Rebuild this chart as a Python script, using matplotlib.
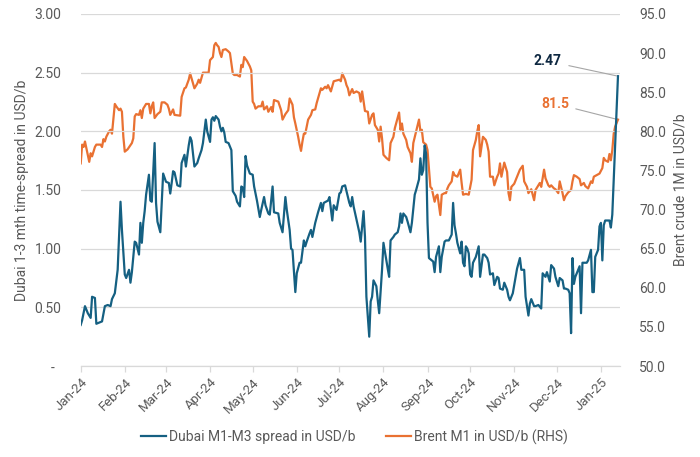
import matplotlib
matplotlib.use("Agg")
import matplotlib.pyplot as plt
import matplotlib.dates as mdates
from matplotlib import font_manager
import pandas as pd

# ---------------- data ----------------
dubai_dates = [
    "2024-01-01", "2024-01-02", "2024-01-04", "2024-01-06", "2024-01-08", "2024-01-09", "2024-01-11", "2024-01-12",
    "2024-01-16", "2024-01-18", "2024-01-20", "2024-01-22", "2024-01-23", "2024-01-25", "2024-01-27", "2024-01-29",
    "2024-01-30", "2024-02-01", "2024-02-02", "2024-02-04", "2024-02-05", "2024-02-06", "2024-02-08", "2024-02-09",
    "2024-02-11", "2024-02-12", "2024-02-13", "2024-02-14", "2024-02-15", "2024-02-16", "2024-02-18", "2024-02-19",
    "2024-02-20", "2024-02-22", "2024-02-23", "2024-02-24", "2024-02-26", "2024-02-27", "2024-02-28", "2024-03-01",
    "2024-03-03", "2024-03-04", "2024-03-05", "2024-03-06", "2024-03-07", "2024-03-09", "2024-03-11", "2024-03-12",
    "2024-03-14", "2024-03-15", "2024-03-17", "2024-03-18", "2024-03-19", "2024-03-21", "2024-03-23", "2024-03-24",
    "2024-03-26", "2024-03-27", "2024-03-29", "2024-03-30", "2024-04-01", "2024-04-02", "2024-04-03", "2024-04-04",
    "2024-04-05", "2024-04-07", "2024-04-08", "2024-04-09", "2024-04-10", "2024-04-11", "2024-04-12", "2024-04-14",
    "2024-04-16", "2024-04-17", "2024-04-19", "2024-04-20", "2024-04-22", "2024-04-23", "2024-04-24", "2024-04-25",
    "2024-04-26", "2024-04-27", "2024-04-29", "2024-05-01", "2024-05-02", "2024-05-04", "2024-05-06", "2024-05-07",
    "2024-05-09", "2024-05-10", "2024-05-12", "2024-05-13", "2024-05-15", "2024-05-16", "2024-05-19", "2024-05-20",
    "2024-05-22", "2024-05-24", "2024-05-25", "2024-05-27", "2024-05-28", "2024-05-29", "2024-05-31", "2024-06-01",
    "2024-06-03", "2024-06-04", "2024-06-06", "2024-06-07", "2024-06-08", "2024-06-10", "2024-06-11", "2024-06-12",
    "2024-06-14", "2024-06-16", "2024-06-18", "2024-06-19", "2024-06-20", "2024-06-23", "2024-06-24", "2024-06-26",
    "2024-06-27", "2024-06-29", "2024-07-01", "2024-07-02", "2024-07-03", "2024-07-05", "2024-07-06", "2024-07-08",
    "2024-07-09", "2024-07-10", "2024-07-11", "2024-07-13", "2024-07-15", "2024-07-16", "2024-07-18", "2024-07-19",
    "2024-07-20", "2024-07-22", "2024-07-23", "2024-07-24", "2024-07-25", "2024-07-27", "2024-07-28", "2024-07-29",
    "2024-07-31", "2024-08-01", "2024-08-03", "2024-08-04", "2024-08-05", "2024-08-06", "2024-08-08", "2024-08-09",
    "2024-08-11", "2024-08-12", "2024-08-13", "2024-08-14", "2024-08-15", "2024-08-17", "2024-08-18", "2024-08-20",
    "2024-08-21", "2024-08-23", "2024-08-24", "2024-08-26", "2024-08-27", "2024-08-28", "2024-08-29", "2024-08-30",
    "2024-08-31", "2024-09-01", "2024-09-02", "2024-09-04", "2024-09-05", "2024-09-06", "2024-09-07", "2024-09-09",
    "2024-09-10", "2024-09-11", "2024-09-13", "2024-09-14", "2024-09-16", "2024-09-18", "2024-09-19", "2024-09-20",
    "2024-09-21", "2024-09-22", "2024-09-24", "2024-09-25", "2024-09-26", "2024-09-27", "2024-09-28", "2024-09-29",
    "2024-09-30", "2024-10-01", "2024-10-02", "2024-10-03", "2024-10-05", "2024-10-07", "2024-10-08", "2024-10-10",
    "2024-10-11", "2024-10-13", "2024-10-14", "2024-10-15", "2024-10-17", "2024-10-18", "2024-10-20", "2024-10-21",
    "2024-10-22", "2024-10-24", "2024-10-25", "2024-10-27", "2024-10-28", "2024-10-29", "2024-10-31", "2024-11-01",
    "2024-11-03", "2024-11-05", "2024-11-06", "2024-11-08", "2024-11-09", "2024-11-10", "2024-11-11", "2024-11-12",
    "2024-11-13", "2024-11-15", "2024-11-16", "2024-11-18", "2024-11-20", "2024-11-21", "2024-11-23", "2024-11-24",
    "2024-11-26", "2024-11-27", "2024-11-29", "2024-11-30", "2024-12-02", "2024-12-03", "2024-12-05", "2024-12-06",
    "2024-12-07", "2024-12-09", "2024-12-10", "2024-12-11", "2024-12-12", "2024-12-13", "2024-12-14", "2024-12-15",
    "2024-12-17", "2024-12-18", "2024-12-19", "2024-12-20", "2024-12-22", "2024-12-23", "2024-12-25", "2024-12-26",
    "2024-12-27", "2024-12-28", "2024-12-30", "2024-12-31", "2025-01-01", "2025-01-02", "2025-01-03", "2025-01-04",
    "2025-01-06", "2025-01-07", "2025-01-08", "2025-01-09", "2025-01-13",
]
dubai_spread = [
    0.35, 0.39, 0.51, 0.45, 0.41, 0.59, 0.58, 0.36,
    0.38, 0.51, 0.52, 0.51, 0.57, 0.62, 0.82, 1.40,
    1.16, 0.78, 0.75, 0.82, 0.71, 0.80, 1.06, 1.05,
    0.95, 1.22, 1.05, 1.22, 1.32, 1.46, 1.63, 1.41,
    1.40, 1.90, 1.39, 1.23, 1.14, 1.39, 1.64, 1.57,
    1.56, 1.47, 1.56, 1.66, 1.65, 1.54, 1.53, 1.73,
    1.80, 1.70, 1.88, 1.95, 1.92, 1.70, 1.73, 1.77,
    1.84, 1.90, 2.10, 2.00, 1.91, 2.10, 2.12, 2.09,
    2.13, 2.10, 2.04, 2.00, 2.03, 1.99, 1.91, 1.90,
    1.84, 1.49, 1.45, 1.40, 1.36, 1.53, 1.52, 1.44,
    1.79, 1.71, 1.64, 1.63, 1.53, 1.41, 1.27, 1.33,
    1.44, 1.37, 1.30, 1.29, 1.53, 1.31, 1.30, 1.22,
    1.14, 1.44, 1.33, 1.16, 1.00, 0.99, 0.63, 0.79,
    0.88, 0.88, 1.07, 1.02, 1.06, 1.13, 1.16, 1.10,
    1.22, 1.31, 1.39, 1.32, 1.39, 1.41, 1.44, 1.24,
    1.37, 1.33, 1.47, 1.48, 1.53, 1.54, 1.49, 1.39,
    1.36, 1.44, 1.36, 1.25, 1.14, 1.06, 1.32, 1.10,
    0.59, 0.25, 0.55, 0.59, 0.73, 0.68, 0.56, 0.45,
    0.82, 1.05, 0.90, 0.83, 0.76, 1.07, 1.10, 1.12,
    1.14, 1.19, 1.30, 1.22, 1.30, 1.27, 1.23, 1.14,
    1.22, 1.46, 1.50, 1.59, 1.77, 1.63, 1.67, 1.88,
    1.81, 1.22, 0.92, 0.90, 0.89, 0.80, 0.93, 1.02,
    0.80, 0.93, 1.06, 1.07, 1.07, 1.12, 1.39, 1.20,
    1.13, 1.05, 0.96, 1.06, 0.88, 0.85, 1.02, 1.00,
    0.96, 0.78, 0.76, 0.88, 0.93, 1.02, 0.76, 0.95,
    0.95, 0.92, 0.88, 0.78, 0.79, 0.69, 0.76, 0.75,
    0.66, 0.65, 0.71, 0.65, 0.59, 0.56, 0.62, 0.69,
    0.83, 0.92, 0.82, 0.82, 0.59, 0.51, 0.43, 0.53,
    0.57, 0.51, 0.51, 0.52, 0.49, 0.79, 0.76, 0.80,
    0.72, 0.86, 0.83, 0.76, 0.68, 0.75, 0.73, 0.66,
    0.66, 0.65, 0.62, 0.28, 0.92, 0.70, 0.76, 0.79,
    0.85, 0.45, 0.88, 0.88, 0.88, 0.90, 0.99, 0.63,
    0.63, 0.93, 0.99, 1.19, 1.22, 0.90, 1.20, 1.24,
    1.24, 1.24, 1.18, 1.29, 2.47,
]

brent_dates = [
    "2024-01-01", "2024-01-02", "2024-01-03", "2024-01-04", "2024-01-06", "2024-01-07", "2024-01-08", "2024-01-09",
    "2024-01-11", "2024-01-12", "2024-01-15", "2024-01-16", "2024-01-17", "2024-01-18", "2024-01-19", "2024-01-21",
    "2024-01-22", "2024-01-23", "2024-01-25", "2024-01-26", "2024-01-28", "2024-01-29", "2024-01-30", "2024-01-31",
    "2024-02-01", "2024-02-03", "2024-02-06", "2024-02-07", "2024-02-08", "2024-02-09", "2024-02-11", "2024-02-12",
    "2024-02-13", "2024-02-14", "2024-02-16", "2024-02-18", "2024-02-19", "2024-02-20", "2024-02-21", "2024-02-22",
    "2024-02-24", "2024-02-26", "2024-02-27", "2024-02-29", "2024-03-02", "2024-03-03", "2024-03-04", "2024-03-06",
    "2024-03-07", "2024-03-11", "2024-03-12", "2024-03-14", "2024-03-15", "2024-03-17", "2024-03-18", "2024-03-20",
    "2024-03-21", "2024-03-23", "2024-03-24", "2024-03-25", "2024-03-27", "2024-03-31", "2024-04-01", "2024-04-03",
    "2024-04-04", "2024-04-05", "2024-04-06", "2024-04-07", "2024-04-08", "2024-04-09", "2024-04-10", "2024-04-12",
    "2024-04-14", "2024-04-15", "2024-04-17", "2024-04-18", "2024-04-20", "2024-04-22", "2024-04-23", "2024-04-24",
    "2024-04-25", "2024-04-27", "2024-04-29", "2024-04-30", "2024-05-01", "2024-05-02", "2024-05-03", "2024-05-05",
    "2024-05-07", "2024-05-08", "2024-05-09", "2024-05-11", "2024-05-12", "2024-05-14", "2024-05-15", "2024-05-16",
    "2024-05-19", "2024-05-21", "2024-05-22", "2024-05-24", "2024-05-26", "2024-05-27", "2024-05-29", "2024-05-30",
    "2024-05-31", "2024-06-02", "2024-06-03", "2024-06-04", "2024-06-05", "2024-06-06", "2024-06-07", "2024-06-08",
    "2024-06-09", "2024-06-11", "2024-06-12", "2024-06-14", "2024-06-15", "2024-06-17", "2024-06-18", "2024-06-19",
    "2024-06-21", "2024-06-22", "2024-06-23", "2024-06-25", "2024-06-27", "2024-06-29", "2024-07-01", "2024-07-02",
    "2024-07-03", "2024-07-05", "2024-07-06", "2024-07-07", "2024-07-08", "2024-07-10", "2024-07-11", "2024-07-13",
    "2024-07-15", "2024-07-16", "2024-07-17", "2024-07-19", "2024-07-21", "2024-07-22", "2024-07-24", "2024-07-25",
    "2024-07-26", "2024-07-28", "2024-07-29", "2024-07-30", "2024-07-31", "2024-08-01", "2024-08-03", "2024-08-05",
    "2024-08-06", "2024-08-08", "2024-08-09", "2024-08-12", "2024-08-13", "2024-08-14", "2024-08-15", "2024-08-17",
    "2024-08-18", "2024-08-20", "2024-08-21", "2024-08-22", "2024-08-24", "2024-08-26", "2024-08-27", "2024-08-28",
    "2024-08-29", "2024-08-31", "2024-09-01", "2024-09-03", "2024-09-04", "2024-09-06", "2024-09-07", "2024-09-08",
    "2024-09-10", "2024-09-11", "2024-09-13", "2024-09-14", "2024-09-15", "2024-09-16", "2024-09-18", "2024-09-19",
    "2024-09-20", "2024-09-22", "2024-09-24", "2024-09-25", "2024-09-26", "2024-09-28", "2024-09-30", "2024-10-02",
    "2024-10-03", "2024-10-05", "2024-10-06", "2024-10-07", "2024-10-08", "2024-10-10", "2024-10-12", "2024-10-13",
    "2024-10-14", "2024-10-15", "2024-10-17", "2024-10-18", "2024-10-20", "2024-10-21", "2024-10-22", "2024-10-23",
    "2024-10-25", "2024-10-27", "2024-10-28", "2024-10-29", "2024-10-30", "2024-11-01", "2024-11-03", "2024-11-05",
    "2024-11-07", "2024-11-08", "2024-11-10", "2024-11-11", "2024-11-13", "2024-11-15", "2024-11-16", "2024-11-18",
    "2024-11-19", "2024-11-20", "2024-11-22", "2024-11-23", "2024-11-25", "2024-11-26", "2024-11-27", "2024-11-29",
    "2024-11-30", "2024-12-02", "2024-12-03", "2024-12-05", "2024-12-06", "2024-12-07", "2024-12-09", "2024-12-11",
    "2024-12-12", "2024-12-13", "2024-12-15", "2024-12-17", "2024-12-18", "2024-12-20", "2024-12-21", "2024-12-23",
    "2024-12-25", "2024-12-26", "2024-12-27", "2024-12-29", "2024-12-31", "2025-01-02", "2025-01-03", "2025-01-04",
    "2025-01-06", "2025-01-07", "2025-01-08", "2025-01-09", "2025-01-10", "2025-01-11", "2025-01-13",
]
brent_price = [
    75.9, 78.3, 78.0, 78.7, 77.0, 76.1, 77.2, 76.8,
    78.0, 78.3, 78.3, 78.0, 79.0, 78.7, 79.3, 80.0,
    80.2, 79.7, 83.5, 83.2, 82.7, 82.9, 82.5, 79.3,
    77.4, 77.7, 78.5, 79.1, 81.9, 82.2, 82.1, 82.7,
    81.7, 82.9, 83.5, 83.5, 82.3, 83.2, 83.7, 81.7,
    82.2, 82.5, 83.7, 83.7, 83.4, 82.9, 82.1, 82.8,
    82.1, 82.0, 84.4, 85.5, 85.6, 86.6, 87.4, 86.1,
    85.5, 86.1, 86.6, 86.2, 87.5, 87.5, 89.1, 89.5,
    91.0, 91.3, 91.0, 90.8, 90.0, 89.5, 90.4, 90.5,
    90.2, 90.0, 87.4, 87.2, 87.2, 87.0, 88.5, 88.2,
    89.5, 89.0, 88.3, 87.8, 83.8, 83.5, 82.9, 83.2,
    83.2, 83.8, 82.8, 83.2, 82.5, 83.1, 82.5, 84.0,
    83.8, 82.7, 81.5, 82.2, 82.7, 84.2, 83.4, 81.8,
    81.0, 79.3, 78.3, 77.5, 78.7, 79.7, 79.7, 80.6,
    81.5, 82.1, 82.7, 82.8, 83.6, 84.9, 85.5, 85.3,
    85.7, 85.5, 85.9, 85.1, 86.4, 86.5, 86.6, 86.4,
    87.4, 86.6, 85.9, 85.5, 84.6, 85.4, 84.9, 85.1,
    84.9, 83.8, 85.1, 82.6, 82.5, 81.0, 82.1, 82.3,
    80.8, 80.2, 78.7, 80.6, 79.1, 77.0, 76.6, 76.3,
    78.5, 79.3, 80.4, 82.4, 80.2, 81.0, 79.7, 78.9,
    78.0, 77.2, 76.1, 78.5, 80.0, 81.5, 80.0, 80.2,
    78.6, 78.3, 77.6, 72.9, 72.7, 71.0, 71.7, 71.9,
    69.3, 71.9, 72.1, 72.1, 72.7, 73.1, 73.6, 74.8,
    74.4, 74.2, 75.1, 73.4, 71.9, 72.0, 71.9, 73.8,
    77.6, 78.9, 80.0, 80.8, 76.8, 79.3, 78.9, 78.3,
    77.4, 74.2, 74.2, 73.1, 74.2, 74.6, 75.9, 74.2,
    76.0, 74.8, 72.1, 71.2, 72.9, 73.3, 74.2, 75.1,
    75.6, 73.6, 72.9, 72.1, 72.6, 71.2, 72.5, 73.1,
    73.4, 72.9, 75.1, 74.0, 73.1, 72.9, 73.1, 72.7,
    72.6, 72.1, 73.6, 72.1, 71.2, 71.7, 72.2, 72.5,
    73.6, 74.4, 74.2, 73.9, 73.1, 73.4, 73.0, 72.7,
    73.6, 73.4, 74.2, 74.4, 74.6, 75.3, 76.6, 76.3,
    76.1, 77.1, 76.3, 77.6, 79.7, 80.6, 81.5,
]

left_ticks = [0, 0.5, 1.0, 1.5, 2.0, 2.5, 3.0]
left_labels = ["-  ", "0.50", "1.00", "1.50", "2.00", "2.50", "3.00"]
right_ticks = [50, 55, 60, 65, 70, 75, 80, 85, 90, 95]
month_ticks = ["2024-01-01", "2024-02-01", "2024-03-01", "2024-04-01", "2024-05-01", "2024-06-01",
               "2024-07-01", "2024-08-01", "2024-09-01", "2024-10-01", "2024-11-01", "2024-12-01",
               "2025-01-01"]
x_start = "2024-01-01"
x_end = "2025-01-14 10:00"

series_labels = ["Dubai M1-M3 spread in USD/b", "Brent M1 in USD/b (RHS)"]
left_title = "Dubai 1-3 mth time-spread in USD/b"
right_title = "Brent crude 1M in USD/b"

# ---------------- style ----------------
available = {f.name for f in font_manager.fontManager.ttflist}
fam = [f for f in ["Liberation Sans Narrow", "Roboto", "DejaVu Sans"] if f in available]
plt.rcParams["font.family"] = fam

BLUE = "#156082"
ORANGE = "#E97132"
GRAY = "#595959"
GRID = "#D9D9D9"
NAVY = "#0E2841"

fig = plt.figure(figsize=(7.0, 4.57), dpi=100)
ax = fig.add_axes([0.1153, 0.1991, 0.7704, 0.7703])
ax2 = ax.twinx()

dd = pd.to_datetime(dubai_dates)
bd = pd.to_datetime(brent_dates)

l1, = ax.plot(dd, dubai_spread, color=BLUE, lw=1.6, zorder=3, solid_joinstyle="round")
l2, = ax2.plot(bd, brent_price, color=ORANGE, lw=1.6, zorder=2, solid_joinstyle="round")
# draw blue above orange
ax.set_zorder(2)
ax.patch.set_visible(False)
ax2.set_zorder(1)

ax.set_ylim(0, 3.0)
ax2.set_ylim(50, 95)
ax.set_xlim(pd.Timestamp(x_start), pd.Timestamp(x_end))

ax.set_yticks(left_ticks)
ax.set_yticklabels(left_labels)
ax2.set_yticks(right_ticks)
ax2.set_yticklabels([f"{v:.1f}" for v in right_ticks])

ax.set_xticks(pd.to_datetime(month_ticks))
ax.xaxis.set_major_formatter(mdates.DateFormatter("%b-%y"))

for a in (ax, ax2):
    for s in a.spines.values():
        s.set_visible(False)
ax.spines["bottom"].set_visible(True)
ax.spines["bottom"].set_color(GRID)
ax.spines["bottom"].set_linewidth(0.9)

ax.grid(axis="y", color=GRID, lw=0.9)
ax.set_axisbelow(True)
ax.tick_params(axis="y", length=0, pad=14, labelsize=10, labelcolor=GRAY)
ax2.tick_params(axis="y", length=0, pad=14, labelsize=10, labelcolor=GRAY)
ax.tick_params(axis="x", length=4, color=GRID, width=0.9, pad=3, labelsize=9.5, labelcolor=GRAY)
for lab in ax.get_xticklabels():
    lab.set_rotation(45)
    lab.set_ha("right")
    lab.set_rotation_mode("anchor")

ax.set_ylabel(left_title, color=GRAY, fontsize=10, labelpad=4)
ax2.set_ylabel(right_title, color=GRAY, fontsize=10, labelpad=5)

# end-value annotations
ax.annotate(f"{dubai_spread[-1]:.2f}", xy=(dd[-1], dubai_spread[-1]), xytext=(-56, 15),
            textcoords="offset pixels", ha="right", va="center", fontsize=10, fontweight="bold",
            color=NAVY, arrowprops=dict(arrowstyle="-", color="#A6A6A6", lw=0.8, shrinkA=3, shrinkB=1))
ax2.annotate(f"{brent_price[-1]:.1f}", xy=(bd[-1], brent_price[-1]), xytext=(-49, 16),
             textcoords="offset pixels", ha="right", va="center", fontsize=10, fontweight="bold",
             color=ORANGE, arrowprops=dict(arrowstyle="-", color="#A6A6A6", lw=0.8, shrinkA=3, shrinkB=1))

fig.legend([l1, l2], series_labels, loc="center", bbox_to_anchor=(0.506, 0.044), ncol=2,
           frameon=False, fontsize=10, handlelength=1.8, handletextpad=0.2, columnspacing=2.2,
           labelcolor=GRAY)

fig.savefig("out.png", dpi=100)
